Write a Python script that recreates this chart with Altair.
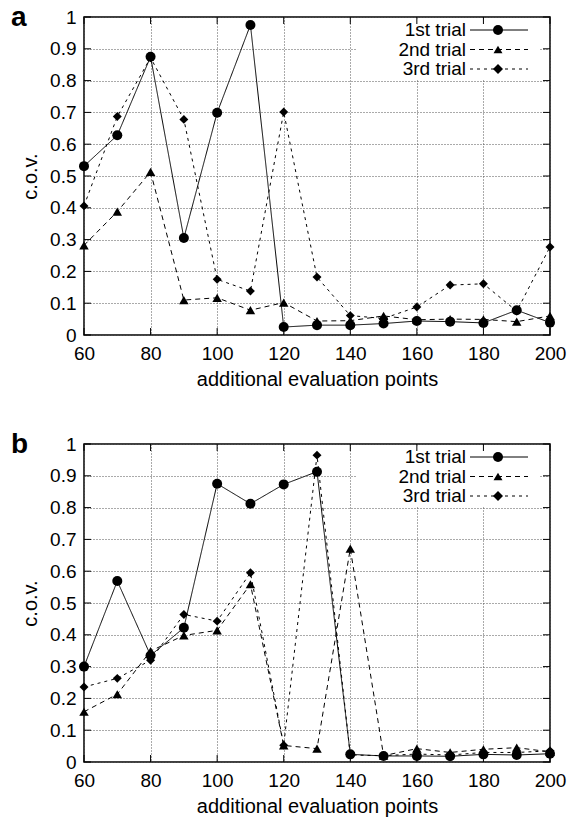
import altair as alt
import pandas as pd

# ---------------- data ----------------
x_vals = [60, 70, 80, 90, 100, 110, 120, 130, 140, 150, 160, 170, 180, 190, 200]

a_trial1 = [0.531, 0.628, 0.875, 0.305, 0.699, 0.975, 0.025, 0.031, 0.031, 0.036, 0.044, 0.042, 0.038, 0.078, 0.039]
a_trial2 = [0.282, 0.388, 0.513, 0.110, 0.117, 0.078, 0.102, 0.044, 0.045, 0.060, 0.048, 0.050, 0.049, 0.042, 0.060]
a_trial3 = [0.406, 0.687, 0.872, 0.678, 0.175, 0.138, 0.701, 0.182, 0.061, 0.052, 0.088, 0.157, 0.161, 0.075, 0.277]

b_trial1 = [0.300, 0.569, 0.335, 0.422, 0.875, 0.812, 0.873, 0.913, 0.024, 0.019, 0.019, 0.018, 0.024, 0.022, 0.026]
b_trial2 = [0.158, 0.213, 0.349, 0.398, 0.414, 0.559, 0.052, 0.042, 0.671, 0.020, 0.042, 0.030, 0.040, 0.045, 0.032]
b_trial3 = [0.236, 0.263, 0.320, 0.464, 0.443, 0.595, 0.053, 0.965, 0.022, 0.020, 0.025, 0.022, 0.030, 0.030, 0.035]

series_names = ["1st trial", "2nd trial", "3rd trial"]
x_ticks = [60, 80, 100, 120, 140, 160, 180, 200]
y_ticks = [0, 0.1, 0.2, 0.3, 0.4, 0.5, 0.6, 0.7, 0.8, 0.9, 1.0]
x_title = "additional evaluation points"
y_title = "c.o.v."

# ---------------- styling ----------------
W, H = 466, 318
FONT = "Liberation Sans"
dashes = [[1, 0], [5, 4], [3, 4]]
shapes = ["circle", "triangle-up", "diamond"]
sizes = [100, 80, 100]


def panel(t1, t2, t3, letter):
    rows = []
    for name, vals in zip(series_names, [t1, t2, t3]):
        for xv, yv in zip(x_vals, vals):
            rows.append({"x": xv, "y": yv, "series": name})
    df = pd.DataFrame(rows)

    xs = alt.Scale(domain=[60, 200], nice=False, zero=False)
    ys = alt.Scale(domain=[0, 1], nice=False, zero=False)
    xaxis = alt.Axis(values=x_ticks, title=x_title, labelPadding=9, labelFlush=False,
                     titlePadding=6, grid=True)
    yaxis = alt.Axis(values=y_ticks, format="~g", title=y_title, labelFlush=False,
                     labelPadding=8, titlePadding=9, grid=True)

    xenc = alt.X("x:Q", scale=xs, axis=xaxis)
    yenc = alt.Y("y:Q", scale=ys, axis=yaxis)

    base = alt.Chart(df)
    lines = base.mark_line(color="black", strokeWidth=1).encode(
        x=xenc, y=yenc,
        strokeDash=alt.StrokeDash("series:N",
                                  scale=alt.Scale(domain=series_names, range=dashes),
                                  legend=None),
        detail="series:N",
    )
    points = base.mark_point(filled=True, color="black", opacity=1).encode(
        x=xenc, y=yenc,
        shape=alt.Shape("series:N", scale=alt.Scale(domain=series_names, range=shapes),
                        legend=None),
        size=alt.Size("series:N", scale=alt.Scale(domain=series_names, range=sizes),
                      legend=None),
    )

    # legend box
    box = alt.Chart(pd.DataFrame({"k": [0]})).mark_rect(fill="white").encode(
        x=alt.value(272), x2=alt.value(455), y=alt.value(1.5), y2=alt.value(62))

    legend_layers = []
    for i, name in enumerate(series_names):
        yy = 13 + 19.5 * i
        one = alt.Chart(pd.DataFrame({"s": [name]}))
        legend_layers.append(one.mark_text(align="right", baseline="middle", fontSize=19,
                                           font=FONT, color="black").encode(
            text="s:N", x=alt.value(382), y=alt.value(yy)))
        legend_layers.append(one.mark_rule(color="black", strokeWidth=1,
                                           strokeDash=dashes[i]).encode(
            x=alt.value(386), x2=alt.value(444), y=alt.value(yy)))
        legend_layers.append(one.mark_point(shape=shapes[i], filled=True, color="black",
                                            opacity=1, size=sizes[i]).encode(
            x=alt.value(414), y=alt.value(yy)))

    # inward ticks on all four sides
    xt = alt.Chart(pd.DataFrame({"x": x_ticks}))
    yt = alt.Chart(pd.DataFrame({"y": y_ticks}))
    tick_b = xt.mark_rule(color="black", strokeWidth=1).encode(
        x=xenc, y=alt.value(H), y2=alt.value(H - 7))
    tick_t = xt.mark_rule(color="black", strokeWidth=1).encode(
        x=xenc, y=alt.value(0), y2=alt.value(7))
    tick_l = yt.mark_rule(color="black", strokeWidth=1).encode(
        y=yenc, x=alt.value(0), x2=alt.value(7))
    tick_r = yt.mark_rule(color="black", strokeWidth=1).encode(
        y=yenc, x=alt.value(W), x2=alt.value(W - 7))

    lab = alt.Chart(pd.DataFrame({"k": [0]})).mark_text(
        align="left", baseline="alphabetic", fontSize=28, fontWeight="bold",
        font=FONT, color="black").encode(
        text=alt.value(letter), x=alt.value(-73), y=alt.value(9))

    return alt.layer(lines, points, box, *legend_layers, tick_b, tick_t, tick_l, tick_r,
                     lab).properties(width=W, height=H)


pa = panel(a_trial1, a_trial2, a_trial3, "a")
pb = panel(b_trial1, b_trial2, b_trial3, "b")

chart = alt.vconcat(pa, pb, spacing=109, bounds="flush").properties(
    padding={"left": 10, "top": 3, "right": 0, "bottom": 0}
).configure_view(
    stroke="black", strokeWidth=1.5
).configure_axis(
    labelFont=FONT, titleFont=FONT, labelColor="black", titleColor="black",
    labelFontSize=19, titleFontSize=20, titleFontWeight="normal",
    ticks=False, domain=False,
    gridColor="#555555", gridDash=[1, 2], gridWidth=1, gridOpacity=1,
)

chart.save("out.html", embed_options={"renderer": "svg", "actions": False})
